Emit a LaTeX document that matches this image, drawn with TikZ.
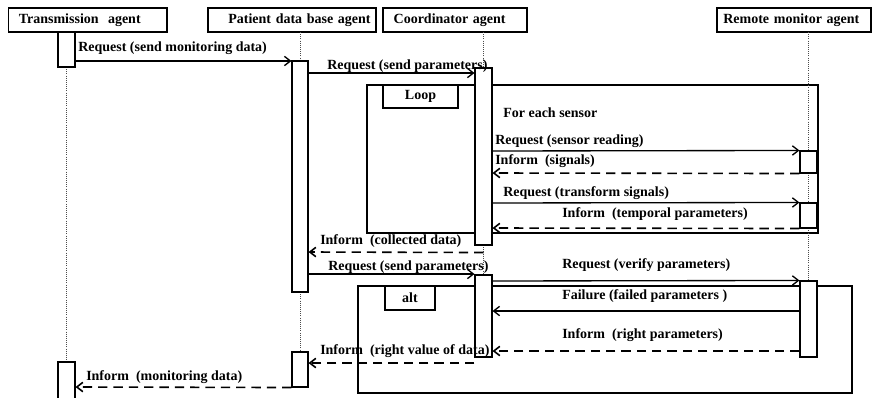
\documentclass[tikz,border=0pt]{standalone}
\usepackage{fontspec}
\setmainfont{Liberation Serif}
\usetikzlibrary{arrows.meta}
\usetikzlibrary{fit}
\usetikzlibrary{positioning}

\begin{document}
\begin{tikzpicture}[x=0.75pt,y=-0.75pt,
  font=\fontsize{10.5}{12}\selectfont\bfseries,
  head/.style={draw,line width=1pt,inner xsep=8pt,inner ysep=0pt,minimum height=18pt,align=left},
  act/.style={draw,fill=white,line width=0.8pt,inner sep=0pt},
  frame/.style={draw,line width=1.4pt,inner sep=0pt},
  life/.style={densely dotted,line width=0.6pt,black!70},
  req/.style={line width=1pt,-{Straight Barb[length=4.5pt,width=7pt]}},
  inf/.style={req,line width=1.2pt,dash pattern=on 7pt off 4.5pt},
  lbl/.style={anchor=west,inner sep=0pt}]
\useasboundingbox (0,0) rectangle (872,397);

\node[frame,fit={(367,85) (818,233)}] (loop) {};
\node[frame,fit={(383,85) (458,108)},label=center:Loop] (looptag) {};
\node[frame,fit={(358,286) (852,393)}] (alt) {};
\node[frame,fit={(385,286) (435,310)},label=center:alt] (alttag) {};
\node[lbl] (each) at (503,113) {For each sensor};

\node[head,text width=103pt] (ta) at (87.5,20) {Transmission\ \ agent};
\node[head,text width=118pt,inner xsep=4pt,align=right] (pa) at (292,20) {Patient data base agent};
\node[head,text width=92pt] (ca) at (455,20) {Coordinator agent};
\node[head,text width=106pt,inner xsep=4.75pt] (ra) at (794,20) {Remote monitor agent};

\draw[life] (66.5,67) -- (66.5,362);
\draw[life] (300,32) -- (300,61);
\draw[life] (300,292) -- (300,352);
\draw[life] (483.5,32) -- (483.5,68);
\draw[life] (483.5,245) -- (483.5,275);
\draw[life] (808.5,32) -- (808.5,281);

\node[act,fit={(58,32) (75,67)}] (t1) {};
\node[act,fit={(58,362) (75,399)}] (t2) {};
\node[act,fit={(292,61) (308,292)}] (p1) {};
\node[act,fit={(292,352) (308,387)}] (p2) {};
\node[act,fit={(475,68) (492,245)}] (c1) {};
\node[act,fit={(475,275) (492,357)}] (c2) {};
\node[act,fit={(800,151) (817,173)}] (r1) {};
\node[act,fit={(800,203) (817,228)}] (r2) {};
\node[act,fit={(800,281) (817,357)}] (r3) {};

\draw[req] (t1.east |- 0,61) -- (p1.west |- 0,61);
\draw[req] (p1.east |- 0,73) -- (c1.west |- 0,73);
\draw[req] (c1.east |- 0,151) -- (r1.north west);
\draw[inf] (r1.south west) -- (c1.east |- 0,173);
\draw[req] (c1.east |- 0,203) -- (r2.north west);
\draw[inf] (r2.south west) -- (c1.east |- 0,228);
\draw[inf] (c1.south) ++(0,7) -- (p1.east |- 0,252);
\draw[req] (p1.east |- 0,274) -- (c2.west |- 0,274);
\draw[req] (c2.east |- 0,281) -- (r3.north west);
\draw[req] (r3.west |- 0,311) -- (c2.east |- 0,311);
\draw[inf] (r3.west |- 0,351) -- (c2.east |- 0,351);
\draw[inf] (c2.west |- 0,363) -- (p2.east |- 0,363);
\draw[inf] (p2.south west) -- (t2.east |- 0,387);

\node[lbl] (l1) at (78,48) {Request (send monitoring data)};
\node[lbl] (l2) at (327,66) {Request (send parameters)};
\node[lbl] (l3) at (495,141) {Request (sensor reading)};
\node[lbl] (l4) at (495,161) {Inform\ \ (signals)};
\node[lbl] (l5) at (503,193) {Request (transform signals)};
\node[lbl] (l6) at (562,214) {Inform\ \ (temporal parameters)};
\node[lbl] (l7) at (320,241) {Inform\ \ (collected data)};
\node[lbl] (l8) at (328,267) {Request (send parameters)};
\node[lbl] (l9) at (562,265) {Request (verify parameters)};
\node[lbl] (l10) at (562,296) {Failure (failed parameters )};
\node[lbl] (l11) at (562,335) {Inform\ \ (right parameters)};
\node[lbl] (l12) at (320,351) {Inform\ \ (right value of data)};
\node[lbl] (l13) at (86,377) {Inform\ \ (monitoring data)};
\end{tikzpicture}
\end{document}
